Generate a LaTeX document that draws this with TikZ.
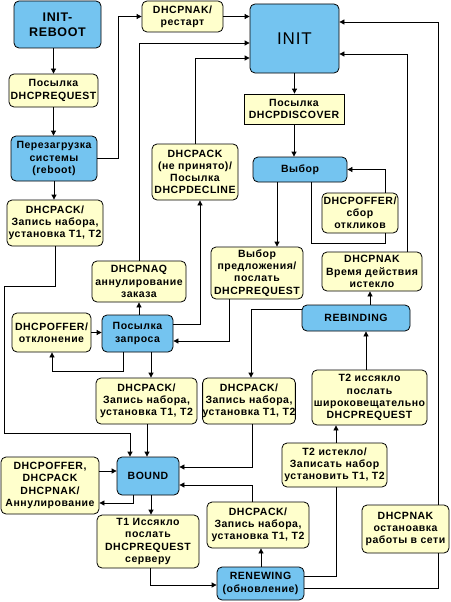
\documentclass[tikz,border=0pt]{standalone}
\usepackage{fontspec}
\setmainfont{Liberation Sans}[LetterSpace=5]
\usetikzlibrary{arrows.meta}
\definecolor{stblue}{RGB}{116,196,240}
\definecolor{lbyellow}{RGB}{255,255,204}
\begin{document}
\begin{tikzpicture}[x=1pt,y=-1pt,
 base/.style={draw=black, line width=0.8pt, rounded corners=5pt, align=center, inner sep=0pt, font=\bfseries\fontsize{10.5}{12.2}\selectfont},
 st/.style={base, fill=stblue},
 lb/.style={base, fill=lbyellow},
 ln/.style={line width=0.8pt},
 arr/.style={ln, -{Triangle[length=5pt,width=5pt]}}
]
\useasboundingbox[fill=white] (0,0) rectangle (450,602);

% states
\node[st, minimum width=87, minimum height=47, font=\bfseries\fontsize{12.5}{15}\selectfont] (initreboot) at (57.5,24.5) {INIT-\\REBOOT};
\node[st, minimum width=86, minimum height=45] (reboot) at (54,158.5) {Перезагрузка\\системы\\(reboot)};
\node[st, minimum width=89, minimum height=69, font=\fontsize{17}{19}\selectfont] (init) at (294.5,38.5) {INIT};
\node[st, minimum width=94, minimum height=25] (vybor) at (300,169.5) {Выбор};
\node[st, minimum width=71, minimum height=37] (zapros) at (137.5,333.5) {Посылка\\запроса};
\node[st, minimum width=108, minimum height=26] (rebinding) at (356,318) {REBINDING};
\node[st, minimum width=62, minimum height=38] (bound) at (148,476) {BOUND};
\node[st, minimum width=87, minimum height=33] (renewing) at (260.5,583.5) {RENEWING\\(обновление)};

% labels
\node[lb, minimum width=89, minimum height=33] (req1) at (53.5,90.5) {Посылка\\DHCPREQUEST};
\node[lb, minimum width=96, minimum height=46] (ack1) at (55,223) {DHCPACK/\\Запись набора,\\установка T1, T2};
\node[lb, minimum width=81, minimum height=31] (nakrestart) at (182.5,16.5) {DHCPNAK/\\рестарт};
\node[lb, rounded corners=0pt, minimum width=100, minimum height=30] (discover) at (294,109) {Посылка\\DHCPDISCOVER};
\node[lb, minimum width=86, minimum height=56] (decline) at (195,172) {DHCPACK\\(не принято)/\\Посылка\\DHCPDECLINE};
\node[lb, minimum width=76, minimum height=40] (offer1) at (360,213) {DHCPOFFER/\\сбор\\откликов};
\node[lb, minimum width=100, minimum height=39] (naktime) at (372,271.5) {DHCPNAK\\Время действия\\истекло};
\node[lb, minimum width=92, minimum height=52] (vybpred) at (257,273) {Выбор\\предложения/\\послать\\DHCPREQUEST};
\node[lb, minimum width=94, minimum height=41] (naq) at (139,281.5) {DHCPNAQ\\аннулирование\\заказа};
\node[lb, minimum width=79, minimum height=39] (offer2) at (51.5,332.5) {DHCPOFFER/\\отклонение};
\node[lb, minimum width=101, minimum height=46] (ack2) at (146.5,401) {DHCPACK/\\Запись набора,\\установка T1, T2};
\node[lb, minimum width=92, minimum height=46] (ack3) at (249,401) {DHCPACK/\\Запись набора,\\установка T1, T2};
\node[lb, minimum width=115, minimum height=55] (t2bcast) at (369.5,397.5) {T2 иссякло\\послать\\широковещательно\\DHCPREQUEST};
\node[lb, minimum width=105, minimum height=44] (t2exp) at (334.5,465) {T2 истекло/\\Записать набор\\установить T1, T2};
\node[lb, minimum width=98, minimum height=57] (annul) at (50,485.5) {DHCPOFFER,\\DHCPACK\\DHCPNAK/\\Аннулирование};
\node[lb, minimum width=102, minimum height=53] (t1) at (148,541.5) {T1 Иссякло\\послать\\DHCPREQUEST\\серверу};
\node[lb, minimum width=102, minimum height=46] (ack4) at (258,525) {DHCPACK/\\Запись набора,\\установка T1, T2};
\node[lb, minimum width=87, minimum height=48] (nakstop) at (405.5,529) {DHCPNAK\\останоавка\\работы в сети};

% connectors
\draw[arr] (initreboot.south -| req1.north) -- (req1.north);
\draw[arr] (req1.south) -- (reboot.north -| req1.south);
\draw[arr] (reboot.south) -- (ack1.north -| reboot.south);
\draw[arr] (reboot.east) -- ++(21,0) |- (nakrestart.west);
\draw[arr] (nakrestart.east) -- (init.west |- nakrestart.east);
\draw[arr] (naq.north) |- (init.west |- 0,43);
\draw[arr] (decline.north) |- (init.west |- 0,58);
\draw[arr] (zapros.north -| naq.south) -- (naq.south);
\draw[arr] (zapros.east |- 0,324) -| (decline.south -| 200,0);
\draw[arr] (vybpred.south -| 229,0) |- (zapros.east |- 0,341);
\draw[arr] (vybor.south -| 277,0) -- (vybpred.north -| 277,0);
\draw[ln] (vybor.south -| 311,0) -- (311,243) -| (offer1.south -| 385,0);
\draw[arr] (offer1.north -| 385,0) |- (vybor.east);
\draw[arr] (init.south) -- (discover.north -| init.south);
\draw[arr] (discover.south) -- (vybor.north -| discover.south);
\draw[arr] (naktime.north -| 407,0) |- (init.east |- 0,54);
\draw[ln] (renewing.east |- 0,588) -| (nakstop.south -| 438,0);
\draw[arr] (nakstop.north -| 438,0) |- (init.east |- 0,22);
\draw[arr] (rebinding.north -| 370,0) -- (naktime.south -| 370,0);
\draw[arr] (t2bcast.north -| 366,0) -- (rebinding.south -| 366,0);
\draw[arr] (t2exp.north -| 336,0) -- (t2bcast.south -| 336,0);
\draw[ln] (renewing.east |- 0,576) -| (t2exp.south -| 336,0);
\draw[arr] (rebinding.west |- 0,309) -| (ack3.north -| 251,0);
\draw[arr] (ack3.south -| 252,0) |- (bound.east |- 0,467);
\draw[arr] (ack2.south -| 147,0) -- (bound.north -| 147,0);
\draw[arr] (zapros.south -| 151,0) -- (ack2.north -| 151,0);
\draw[arr] (ack1.south) -- (ack1.south |- 0,286) -- (4,286) |- (130,433) -- (bound.north -| 130,0);
\draw[arr] (offer2.east) -- (zapros.west |- offer2.east);
\draw[arr] (zapros.south -| 123,0) |- (52,371) -- (offer2.south -| 52,0);
\draw[arr] (annul.east |- 0,471) -- (bound.west |- 0,471);
\draw[arr] (bound.south -| 133,0) |- (annul.east |- 0,503);
\draw[arr] (bound.south -| 151,0) -- (t1.north -| 151,0);
\draw[arr] (t1.south -| 150,0) |- (renewing.west |- 0,585);
\draw[arr] (renewing.north -| 261,0) -- (ack4.south -| 261,0);
\draw[arr] (ack4.north -| 252,0) |- (bound.east |- 0,485);
\end{tikzpicture}
\end{document}
